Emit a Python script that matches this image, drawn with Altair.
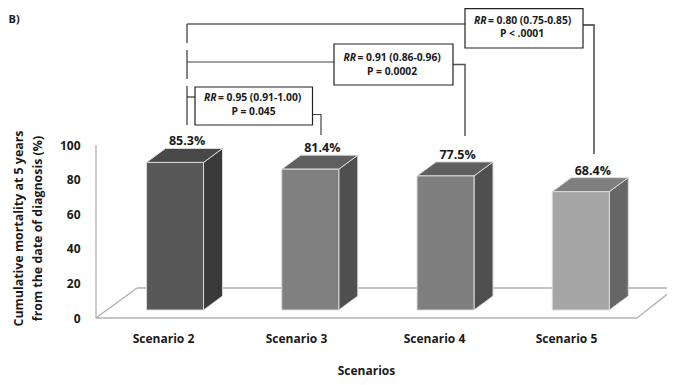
import json
import altair as alt
import pandas as pd

# ---- chart values
scenarios = ["Scenario 2", "Scenario 3", "Scenario 4", "Scenario 5"]
mortality = [85.3, 81.4, 77.5, 68.4]
front_colors = ["#585858", "#808080", "#7f7f7f", "#a6a6a6"]
side_colors = ["#3a3a3a", "#4f4f4f", "#4f4f4f", "#666666"]
top_colors = ["#484848", "#5f5f5f", "#5f5f5f", "#7f7f7f"]
rr_texts = ["= 0.95 (0.91-1.00)", "= 0.91 (0.86-0.96)", "= 0.80 (0.75-0.85)"]
p_texts = ["P = 0.045", "P = 0.0002", "P < .0001"]
y_ticks = [0, 20, 40, 60, 80, 100]

# ---- scale set-up: reference pixels -> data units
X0, Y0 = 96, 318
PX_PER_CAT, PX_PER_PCT = 135.25, 1.73
PLOT_W, PLOT_H = 571, 310
FONT = "Open Sans"
def ux(px): return (px - X0) / PX_PER_CAT
def uy(py): return (Y0 - py) / PX_PER_PCT

xs = alt.Scale(domain=[0, PLOT_W / PX_PER_CAT], nice=False, zero=False)
ys = alt.Scale(domain=[0, PLOT_H / PX_PER_PCT], nice=False, zero=False)

label_pos = [ux(p) for p in (163, 296, 434, 566)]
x_axis = alt.Axis(
    values=label_pos,
    labelExpr=f"{json.dumps(scenarios)}[floor(datum.value)]",
    domain=False, ticks=False, grid=False, labelPadding=15,
    labelFont=FONT, labelFontWeight="bold", labelFontSize=12, labelColor="#1a1a1a",
    titleFont=FONT, titleFontWeight="bold", titleFontSize=12, titleColor="#1a1a1a",
    titleX=270, titleY=47)
y_axis = alt.Axis(
    values=y_ticks, format="d", domain=False, ticks=False, grid=False, labelPadding=16,
    labelFont=FONT, labelFontWeight="bold", labelFontSize=12, labelColor="#1a1a1a",
    titleFont=FONT, titleFontWeight="bold", titleFontSize=12.4, titleColor="#1a1a1a",
    titleX=-71, titleY=220, titleLineHeight=19)
X = lambda: alt.X("x:Q", scale=xs, axis=x_axis, title="Scenarios")
Y = lambda: alt.Y("y:Q", scale=ys, axis=y_axis,
                  title=["Cumulative mortality at 5 years", "from the date of diagnosis (%)"])

# 3-D geometry of the bars (all in data units)
half = 28.5 / PX_PER_CAT
shift = 11.4 / PX_PER_CAT
dx = 19 / PX_PER_CAT
dy = 14 / PX_PER_PCT
base = 8 / PX_PER_PCT

fronts, sides, tops, labels = [], [], [], []
for i, (s, v) in enumerate(zip(scenarios, mortality)):
    c = i + 0.5 + shift
    l, r = c - half, c + half
    b, t = base, base + v
    fronts.append(dict(s=s, x=l, x2=r, y=b, y2=t, col=front_colors[i]))
    sides += [dict(s=s, x=r, y=b, y2=t, col=side_colors[i]),
              dict(s=s, x=r + dx, y=b + dy, y2=t + dy, col=side_colors[i])]
    tops += [dict(s=s, y=t, x=l, x2=r, col=top_colors[i]),
             dict(s=s, y=t + dy, x=l + dx, x2=r + dx, col=top_colors[i])]
    labels.append(dict(x=c + 12 / PX_PER_CAT, y=t + 21 / PX_PER_PCT, t=f"{v}%"))

# floor and axis outline
floor = []
for k, pts in enumerate([[(96, 145), (96, 318)], [(96, 318), (637, 318)], [(96, 318), (137, 288)],
                         [(137, 288), (675, 288)], [(637, 318), (675, 288)]]):
    floor += [dict(k=k, x=ux(a), y=uy(b)) for a, b in pts]

# connector lines: (colour, width, points)
conn_spec = [
    ("#111111", 1.2, [(187, 24), (465, 24)]),
    ("#333333", 1.2, [(187, 24), (187, 43)]),
    ("#333333", 1.2, [(187, 50), (187, 79)]),
    ("#333333", 1.2, [(187, 86), (187, 125)]),
    ("#444444", 1.2, [(187, 62), (334, 62)]),
    ("#333333", 1.2, [(187, 97), (195, 97)]),
    ("#444444", 1.2, [(312, 114.5), (321, 114.5), (321, 135)]),
    ("#555555", 1.5, [(453, 64.5), (465, 64.5), (465, 136)]),
    ("#666666", 1.8, [(583, 25), (594, 25), (594, 154)]),
]
conn = []
for k, (col, w, pts) in enumerate(conn_spec):
    conn += [dict(k=k, o=j, x=ux(a), y=uy(b), col=col, w=w) for j, (a, b) in enumerate(pts)]

boxes = pd.DataFrame([
    dict(x=ux(195), x2=ux(312.5), y=uy(125), y2=uy(87)),
    dict(x=ux(334), x2=ux(453), y=uy(85), y2=uy(44)),
    dict(x=ux(465), x2=ux(583), y=uy(48), y2=uy(8.7)),
])
rr_a = pd.DataFrame([dict(x=ux(a), y=uy(b)) for a, b in [(216.5, 98), (356, 58), (486.5, 20.5)]]).assign(t="RR")
rr_b = pd.DataFrame([dict(x=ux(a), y=uy(b)) for a, b in [(218, 98), (357.5, 58), (488, 20.5)]]).assign(t=rr_texts)
ps = pd.DataFrame([dict(x=ux(a), y=uy(b)) for a, b in [(253.5, 112), (392, 71.5), (522, 34)]]).assign(t=p_texts)

# ---- layers
cid = alt.Color("col:N", scale=None)
BOX_FS = 10.3

floor_l = alt.Chart(pd.DataFrame(floor)).mark_line(color="#b0b0b0", strokeWidth=1.3).encode(
    x=X(), y=Y(), detail="k:N")
side_l = alt.Chart(pd.DataFrame(sides)).mark_area(stroke="#d9d9d9", strokeWidth=1).encode(
    x=X(), y=Y(), y2="y2:Q", detail="s:N", color=cid)
top_l = alt.Chart(pd.DataFrame(tops)).mark_area(orient="horizontal", stroke="#d9d9d9", strokeWidth=1).encode(
    y=Y(), x=X(), x2="x2:Q", detail="s:N", color=cid)
front_l = alt.Chart(pd.DataFrame(fronts)).mark_rect(stroke="#d9d9d9", strokeWidth=1).encode(
    x=X(), x2="x2:Q", y=Y(), y2="y2:Q", color=cid)
val_l = alt.Chart(pd.DataFrame(labels)).mark_text(font=FONT, fontWeight="bold", fontSize=12.5, color="#1a1a1a").encode(
    x=X(), y=Y(), text="t:N")
conn_l = alt.Chart(pd.DataFrame(conn)).mark_line().encode(
    x=X(), y=Y(), order="o:Q", detail="k:N", color=cid, strokeWidth=alt.StrokeWidth("w:Q", scale=None))
box_l = alt.Chart(boxes).mark_rect(fill="white", stroke="#222222", strokeWidth=1.2).encode(
    x=X(), x2="x2:Q", y=Y(), y2="y2:Q")
rr_l = alt.Chart(rr_a).mark_text(font=FONT, fontWeight="bold", fontStyle="italic", fontSize=BOX_FS, align="right", color="#1a1a1a").encode(
    x=X(), y=Y(), text="t:N")
rrb_l = alt.Chart(rr_b).mark_text(font=FONT, fontWeight="bold", fontSize=BOX_FS, align="left", color="#1a1a1a").encode(
    x=X(), y=Y(), text="t:N")
p_l = alt.Chart(ps).mark_text(font=FONT, fontWeight="bold", fontSize=BOX_FS, color="#1a1a1a").encode(
    x=X(), y=Y(), text="t:N")
tag_l = alt.Chart(pd.DataFrame([dict(x=ux(8.5), y=uy(20), t="B)")])).mark_text(
    font=FONT, fontWeight="bold", fontSize=11, align="left", color="#1a1a1a").encode(x=X(), y=Y(), text="t:N")

chart = alt.layer(floor_l, side_l, top_l, front_l, conn_l, box_l, val_l, rr_l, rrb_l, p_l, tag_l).properties(
    width=PLOT_W, height=PLOT_H,
    autosize=alt.AutoSizeParams(type="none"),
    padding={"left": X0 - 8, "top": 0, "right": 0, "bottom": 66},
    background="white",
).configure_view(stroke=None)

chart.save("out.html", embed_options={"renderer": "svg", "actions": False})
